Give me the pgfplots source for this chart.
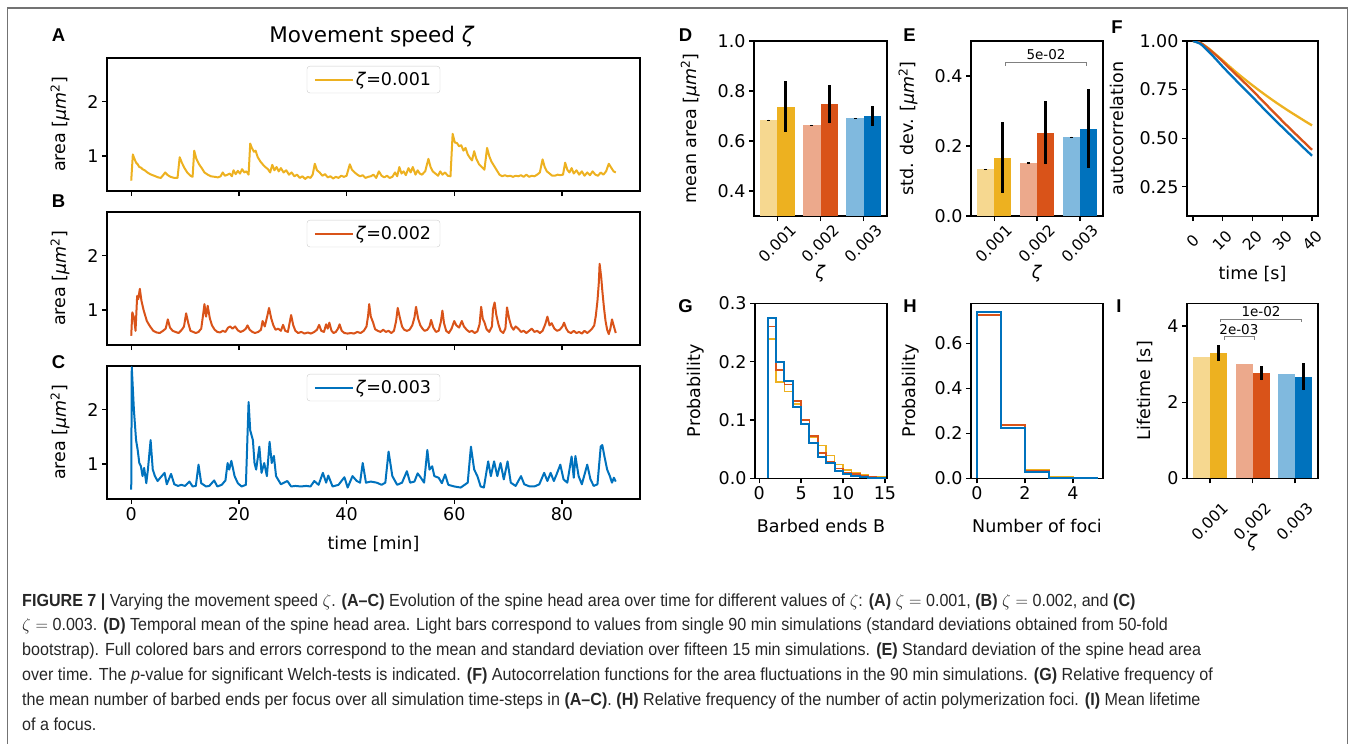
\documentclass[border=0pt]{standalone}
\usepackage{fontspec}
\usepackage{pgfplots}
\pgfplotsset{compat=1.18}
\setmainfont{DejaVu Sans}
\newfontfamily\panelfont{Liberation Sans}
\newfontfamily\capfont[FakeStretch=0.92]{Liberation Sans}
\definecolor{cy}{HTML}{EDB120}
\definecolor{co}{HTML}{D95319}
\definecolor{cb}{HTML}{0072BD}
\definecolor{ly}{HTML}{F6D890}
\definecolor{lo}{HTML}{ECA98C}
\definecolor{lb}{HTML}{80B9DE}
\newcommand\tk{\fontsize{17.5}{20}\selectfont}
\newcommand\rtk{\fontsize{15.5}{18}\selectfont}
\newcommand\zt{\textit{ζ}}
\newcommand\umq{[\textit{μm}\textsuperscript{2}]}
\newcommand\capf{\capfont\fontsize{17.5}{20}\selectfont}

\pgfplotsset{
  panel/.style={scale only axis, axis line style={line width=1.3pt},
    tick align=outside, tick pos=left, major tick length=5pt,
    every tick/.style={line width=1.3pt, black},
    tick label style={font=\tk}, label style={font=\tk},
    /pgf/number format/assume math mode=true},
  dec1/.style={yticklabel style={/pgf/number format/.cd, fixed, fixed zerofill, precision=1}},
  trace/.style={line width=2pt, line join=round},
  leg/.style={legend style={at={(0.5,0.94)}, anchor=north, draw=black!20,
    rounded corners=3pt, font=\tk, inner xsep=7pt, inner ysep=4pt},
    legend image code/.code={\draw[##1] (0pt,0pt) -- (38pt,0pt);}},
  bb/.style={ybar, bar width=0.4, bar shift=0pt, draw=none, fill=#1,
    /pgfplots/error bars/y dir=both, /pgfplots/error bars/y explicit,
    /pgfplots/error bars/error mark=none,
    /pgfplots/error bars/error bar style={line width=3pt, black}},
  cats/.style={xmin=-0.54, xmax=2.54, xtick={0,1,2}, xticklabels={0.001,0.002,0.003},
    xticklabel style={rotate=45, anchor=center, xshift=-16pt, yshift=-16pt, font=\rtk}},
}

\begin{document}
\begin{tikzpicture}
\useasboundingbox (0pt,0pt) rectangle (1355pt,-744pt);
\draw[black!55, line width=1.5pt] (7.5pt,-746pt) -- (7.5pt,-8pt) -- (1347.5pt,-8pt) -- (1347.5pt,-746pt);

% ---------- A ----------
\begin{axis}[panel, leg, at={(107pt,-191pt)}, anchor=south west, width=533pt, height=133pt,
  xmin=-4.5, xmax=94.5, ymin=0.36, ymax=2.8, xtick={0,20,40,60,80}, xticklabels={},
  ytick={1,2}, ylabel={area \umq}, ylabel style={at={(axis description cs:-0.088,0.5)}, anchor=center}]
\addplot[trace, cy] table {
0 0.55
0.3 1.03
0.6 0.95
0.9 0.88
1.2 0.85
1.5 0.80
1.8 0.79
2.1 0.76
2.5 0.74
3.0 0.70
3.5 0.67
4.0 0.65
4.5 0.63
5.0 0.61
5.5 0.60
6.0 0.66
6.3 0.70
6.8 0.65
7.3 0.62
8.0 0.60
8.6 0.60
9.0 0.98
9.4 0.88
9.9 0.78
10.4 0.70
11.0 0.64
11.4 0.62
11.7 1.10
12.1 0.95
12.6 0.85
13.1 0.78
13.6 0.70
14.2 0.66
14.8 0.63
15.5 0.62
16.1 0.61
16.6 0.63
17.0 0.70
17.4 0.64
17.9 0.66
18.3 0.68
18.7 0.63
19.0 0.74
19.4 0.67
19.8 0.73
20.2 0.68
20.6 0.76
21.0 0.70
21.4 0.72
21.8 0.66
22.1 1.23
22.4 1.15
22.8 1.08
23.1 1.10
23.5 0.98
24.0 0.90
24.5 0.84
24.9 0.80
25.4 0.76
25.8 0.70
26.2 0.84
26.6 0.74
27.0 0.80
27.4 0.72
27.8 0.78
28.3 0.70
28.8 0.74
29.3 0.66
29.8 0.70
30.3 0.63
30.8 0.66
31.3 0.60
31.8 0.63
32.3 0.58
32.8 0.62
33.3 0.60
33.7 0.66
34.1 0.86
34.5 0.74
35.0 0.70
35.5 0.64
36.0 0.67
36.5 0.61
37.0 0.63
37.5 0.59
38.0 0.62
38.5 0.60
39.0 0.64
39.5 0.62
40.0 0.64
40.6 0.85
41.0 0.75
41.5 0.70
42.0 0.66
42.5 0.63
43.0 0.65
43.5 0.60
44.0 0.62
44.5 0.63
45.0 0.66
45.5 0.60
46.0 0.72
46.5 0.64
47.0 0.61
47.5 0.64
48.0 0.60
48.5 0.62
49.0 0.70
49.4 0.63
49.8 0.80
50.2 0.68
50.6 0.72
51.0 0.65
51.5 0.78
51.9 0.70
52.3 0.80
52.8 0.66
53.2 0.74
53.6 0.68
54.0 0.66
54.6 0.72
55.2 0.95
55.6 0.80
56.0 0.72
56.5 0.68
57.0 0.64
57.4 0.72
57.8 0.66
58.3 0.70
58.8 0.64
59.3 0.63
59.7 1.41
60.1 1.25
60.5 1.24
60.9 1.18
61.3 1.20
61.7 1.10
62.1 1.15
62.5 1.03
62.9 0.97
63.3 0.92
63.7 1.09
64.1 0.95
64.6 0.85
65.1 0.80
65.6 0.75
66.1 1.15
66.5 1.00
66.9 0.90
67.4 0.82
67.9 0.74
68.4 0.66
68.9 0.63
69.4 0.65
69.9 0.63
70.4 0.64
70.9 0.62
71.4 0.64
71.9 0.63
72.4 0.65
72.9 0.62
73.4 0.66
73.9 0.62
74.4 0.64
74.9 0.63
75.4 0.66
75.9 0.70
76.4 0.94
76.8 0.80
77.2 0.72
77.7 0.68
78.2 0.64
78.7 0.64
79.2 0.66
79.7 0.65
80.2 0.66
80.6 0.88
81.0 0.75
81.4 0.70
81.8 0.78
82.2 0.68
82.7 0.74
83.2 0.66
83.7 0.72
84.2 0.64
84.7 0.70
85.2 0.65
85.7 0.72
86.2 0.66
86.7 0.64
87.2 0.70
87.7 0.66
88.2 0.72
88.7 0.86
89.2 0.78
89.6 0.72
90.0 0.70
};
\addlegendentry{\zt=0.001}
\end{axis}

% ---------- B ----------
\begin{axis}[panel, leg, at={(107pt,-345pt)}, anchor=south west, width=533pt, height=133pt,
  xmin=-4.5, xmax=94.5, ymin=0.36, ymax=2.8, xtick={0,20,40,60,80}, xticklabels={},
  ytick={1,2}, ylabel={area \umq}, ylabel style={at={(axis description cs:-0.088,0.5)}, anchor=center}]
\addplot[trace, co] table {
0 0.53
0.2 0.96
0.5 0.87
0.8 0.62
1.1 1.26
1.3 1.20
1.6 1.39
1.9 1.17
2.3 1.00
2.9 0.80
3.5 0.70
4.1 0.62
4.7 0.59
5.3 0.58
5.9 0.62
6.4 0.66
6.8 0.83
7.2 0.68
7.7 0.62
8.2 0.60
8.8 0.58
9.4 0.64
9.8 0.70
10.2 0.94
10.6 0.76
11.0 0.62
11.5 0.60
12.0 0.58
12.5 0.60
13.0 0.66
13.4 0.95
13.6 1.11
13.9 0.88
14.2 1.08
14.6 0.85
15.0 0.72
15.5 0.64
16.0 0.60
16.5 0.59
17.0 0.62
17.5 0.60
18.0 0.68
18.4 0.70
18.8 0.66
19.3 0.70
19.8 0.63
20.3 0.60
20.8 0.62
21.3 0.66
21.6 0.72
22.0 0.64
22.5 0.60
23.0 0.58
23.6 0.60
24.1 0.64
24.4 0.80
24.8 0.70
25.2 0.86
25.6 1.04
26.0 0.85
26.4 0.72
26.8 0.64
27.3 0.66
27.8 0.62
28.2 0.73
28.6 0.62
29.1 0.60
29.7 0.91
30.1 0.72
30.5 0.62
31.0 0.58
31.6 0.60
32.2 0.57
32.8 0.59
33.4 0.57
34.0 0.60
34.5 0.64
34.9 0.73
35.3 0.62
35.8 0.60
36.2 0.74
36.5 0.66
36.8 0.77
37.2 0.62
37.6 0.58
38.0 0.60
38.4 0.66
38.7 0.74
39.1 0.62
39.6 0.58
40.2 0.57
40.8 0.58
41.4 0.57
42.0 0.60
42.6 0.58
43.2 0.62
43.7 0.70
44.0 0.90
44.2 1.11
44.5 0.88
44.9 0.78
45.3 0.65
45.8 0.62
46.3 0.60
46.8 0.64
47.3 0.60
47.8 0.62
48.3 0.58
48.8 0.62
49.2 0.80
49.5 1.04
49.9 0.86
50.3 0.70
50.7 0.64
51.2 0.62
51.7 0.64
52.2 0.72
52.6 0.86
52.9 1.06
53.3 0.84
53.7 0.72
54.1 0.66
54.5 0.62
55.0 0.64
55.4 0.70
55.7 0.82
56.1 0.68
56.6 0.60
57.1 0.62
57.5 0.78
57.8 0.99
58.1 0.76
58.5 0.62
59.0 0.58
59.5 0.66
60.0 0.80
60.4 0.72
60.9 0.68
61.4 0.80
61.8 0.70
62.3 0.64
62.8 0.60
63.3 0.62
63.8 0.58
64.3 0.61
64.7 0.74
65.0 1.06
65.3 0.84
65.6 0.78
66.0 0.65
66.5 0.60
67.0 0.70
67.2 1.02
67.5 1.14
67.8 0.92
68.2 0.74
68.6 0.62
69.1 0.58
69.5 0.66
69.8 1.05
70.2 0.84
70.6 0.70
71.0 0.64
71.4 0.70
71.9 0.66
72.4 0.60
72.9 0.62
73.4 0.58
73.9 0.62
74.4 0.66
74.9 0.60
75.4 0.62
75.9 0.58
76.4 0.62
76.9 0.74
77.3 0.88
77.7 0.72
78.1 0.76
78.6 0.66
79.1 0.62
79.6 0.64
80.1 0.70
80.4 0.77
80.8 0.66
81.2 0.60
81.7 0.58
82.2 0.62
82.7 0.58
83.2 0.60
83.7 0.57
84.2 0.62
84.7 0.58
85.2 0.62
85.6 0.66
86.0 0.72
86.3 0.90
86.6 1.17
86.85 1.50
87.0 1.85
87.3 1.60
87.5 1.36
87.8 1.05
88.1 0.80
88.4 0.64
88.7 0.56
89.0 0.66
89.3 0.83
89.6 0.72
90.0 0.58
};
\addlegendentry{\zt=0.002}
\end{axis}

% ---------- C ----------
\begin{axis}[panel, leg, at={(107pt,-499pt)}, anchor=south west, width=533pt, height=133pt,
  xmin=-4.5, xmax=94.5, ymin=0.36, ymax=2.8, xtick={0,20,40,60,80},
  ytick={1,2}, ylabel={area \umq}, ylabel style={at={(axis description cs:-0.088,0.5)}, anchor=center},
  xlabel={time [min]}, xlabel style={at={(axis description cs:0.5,-0.34)}, anchor=center}]
\addplot[trace, cb] table {
0 0.53
0.1 2.78
0.5 1.99
0.9 1.44
1.2 1.26
1.5 1.02
1.8 0.96
2.1 0.78
2.4 0.93
2.8 0.65
3.1 0.90
3.6 1.44
4.0 0.90
4.4 0.78
4.9 0.69
5.4 0.75
6.2 0.84
6.6 0.63
7.4 0.82
8.0 0.63
8.7 0.60
9.3 0.62
10.0 0.60
10.8 0.68
11.4 0.59
12.0 0.60
12.5 0.99
13.0 0.65
13.9 0.59
14.5 0.60
15.4 0.70
16.0 0.59
16.8 0.62
17.5 0.70
17.9 1.02
18.2 0.90
18.6 1.06
19.2 0.78
19.8 0.65
20.5 0.59
21.3 0.62
21.8 2.14
22.1 1.62
22.6 1.44
22.9 1.02
23.2 0.90
23.8 1.32
24.2 0.84
24.7 1.02
25.2 0.78
25.7 1.41
26.1 1.02
26.5 1.15
26.9 0.78
27.8 0.63
29.0 0.69
29.7 0.59
30.5 0.60
31.5 0.59
32.5 0.60
33.3 0.59
34.0 0.69
34.8 0.62
35.6 0.84
36.2 0.66
36.6 0.79
37.4 0.59
38.5 0.62
39.6 0.76
40.2 0.57
41.1 0.78
41.9 0.69
42.5 0.66
43.0 1.02
43.6 0.66
44.5 0.68
45.6 0.66
46.5 0.62
47.2 0.66
47.8 1.23
48.5 0.78
49.4 0.62
50.3 0.66
51.2 0.87
51.8 0.66
52.6 0.68
53.2 0.83
53.8 0.75
54.4 0.66
55.0 1.26
55.4 0.90
55.9 0.96
56.3 0.78
57.1 0.75
57.7 0.65
58.3 0.81
58.9 0.62
60.0 0.59
61.2 0.57
62.5 0.66
63.1 1.32
63.7 0.90
64.3 0.78
64.9 0.59
65.5 0.57
66.3 1.05
66.8 0.78
67.4 1.05
68.0 0.78
68.6 1.02
69.2 0.72
69.9 1.05
70.5 0.66
71.4 0.60
72.4 0.78
73.0 0.63
74.0 0.59
74.9 0.59
75.8 0.63
76.7 0.84
77.3 0.69
77.9 0.84
78.5 0.69
79.0 0.81
79.7 0.99
80.3 0.72
81.0 0.66
81.8 1.14
82.2 0.75
82.5 1.15
83.1 0.78
83.7 0.63
84.7 0.99
85.3 0.72
85.9 0.60
86.6 0.63
87.2 1.32
87.5 1.35
87.9 1.14
88.4 0.90
88.9 0.78
89.3 0.66
89.65 0.75
90.0 0.68
};
\addlegendentry{\zt=0.003}
\end{axis}

% ---------- D ----------
\begin{axis}[panel, dec1, cats, at={(754pt,-216pt)}, anchor=south west, width=133pt, height=175pt,
  ymin=0.3, ymax=1.0, ytick={0.4,0.6,0.8,1.0},
  xlabel={\zt}, xlabel style={at={(axis description cs:0.5,-0.33)}, anchor=center},
  ylabel={mean area \umq}, ylabel style={at={(axis description cs:-0.48,0.5)}, anchor=center}]
\addplot[bb=ly] coordinates {(-0.2,0.684) +- (0,0.002)};
\addplot[bb=cy] coordinates {(0.2,0.738) +- (0,0.101)};
\addplot[bb=lo] coordinates {(0.8,0.663) +- (0,0.002)};
\addplot[bb=co] coordinates {(1.2,0.748) +- (0,0.077)};
\addplot[bb=lb] coordinates {(1.8,0.691) +- (0,0.002)};
\addplot[bb=cb] coordinates {(2.2,0.701) +- (0,0.040)};
\end{axis}

% ---------- E ----------
\begin{axis}[panel, dec1, cats, at={(971pt,-216pt)}, anchor=south west, width=132pt, height=175pt,
  ymin=0, ymax=0.5, ytick={0,0.2,0.4},
  xlabel={\zt}, xlabel style={at={(axis description cs:0.5,-0.33)}, anchor=center},
  ylabel={std. dev. \umq}, ylabel style={at={(axis description cs:-0.477,0.5)}, anchor=center}]
\addplot[bb=ly] coordinates {(-0.2,0.133) +- (0,0.002)};
\addplot[bb=cy] coordinates {(0.2,0.167) +- (0,0.1015)};
\addplot[bb=lo] coordinates {(0.8,0.152) +- (0,0.002)};
\addplot[bb=co] coordinates {(1.2,0.238) +- (0,0.090)};
\addplot[bb=lb] coordinates {(1.8,0.225) +- (0,0.002)};
\addplot[bb=cb] coordinates {(2.2,0.250) +- (0,0.112)};
\draw[black!50, line width=1pt] (axis cs:0.26,0.43) -- (axis cs:0.26,0.438) -- (axis cs:2.16,0.438) -- (axis cs:2.16,0.43);
\node[font=\fontsize{13.5}{15}\selectfont] at (axis cs:1.21,0.462) {5e-02};
\end{axis}

% ---------- F ----------
\begin{axis}[panel, at={(1187pt,-216pt)}, anchor=south west, width=131pt, height=175pt,
  xmin=-2, xmax=42, ymin=0.1, ymax=1.0, xtick={0,10,20,30,40}, ytick={0.25,0.5,0.75,1},
  yticklabel style={/pgf/number format/.cd, fixed, fixed zerofill, precision=2},
  xticklabel style={rotate=45, anchor=center, xshift=-14pt, yshift=-14pt, font=\rtk},
  xlabel={time [s]}, xlabel style={at={(axis description cs:0.5,-0.33)}, anchor=center},
  ylabel={autocorrelation}, ylabel style={at={(axis description cs:-0.532,0.5)}, anchor=center}]
\addplot[smooth, line width=2.3pt, cy] coordinates {(0,1.0)(2.5,0.99)(5,0.965)(7.5,0.933)(10,0.90)(12.5,0.866)(15,0.833)(17.5,0.802)(20,0.772)(22.5,0.743)(25,0.715)(27.5,0.688)(30,0.662)(32.5,0.637)(35,0.613)(37.5,0.589)(40,0.566)};
\addplot[smooth, line width=2.3pt, co] coordinates {(0,1.0)(2.5,0.99)(5,0.962)(7.5,0.93)(10,0.895)(12.5,0.857)(15,0.82)(17.5,0.783)(20,0.746)(22.5,0.706)(25,0.667)(27.5,0.628)(30,0.589)(32.5,0.551)(35,0.514)(37.5,0.477)(40,0.44)};
\addplot[smooth, line width=2.3pt, cb] coordinates {(0,1.0)(2.5,0.985)(5,0.95)(7.5,0.91)(10,0.868)(12.5,0.828)(15,0.789)(17.5,0.75)(20,0.712)(22.5,0.672)(25,0.633)(27.5,0.595)(30,0.557)(32.5,0.52)(35,0.483)(37.5,0.446)(40,0.41)};
\end{axis}

% ---------- G ----------
\begin{axis}[panel, dec1, at={(755pt,-478.3pt)}, anchor=south west, width=132pt, height=175pt,
  xmin=-0.5, xmax=15.25, ymin=0, ymax=0.3, xtick={0,5,10,15}, ytick={0,0.1,0.2,0.3},
  xlabel={Barbed ends B}, xlabel style={at={(axis description cs:0.5,-0.27)}, anchor=center},
  ylabel={Probability}, ylabel style={at={(axis description cs:-0.45,0.5)}, anchor=center}]
\addplot[const plot mark left, line width=1.6pt, cy] coordinates {(1,0)(1,0.239)(2,0.165)(3,0.149)(4,0.127)(5,0.099)(6,0.071)(7,0.056)(8,0.039)(9,0.024)(10,0.014)(11,0.010)(12,0.006)(13,0.003)(14,0.002)(15,0.002)(15,0)};
\addplot[const plot mark left, line width=1.6pt, co] coordinates {(1,0)(1,0.260)(2,0.186)(3,0.161)(4,0.133)(5,0.100)(6,0.073)(7,0.043)(8,0.029)(9,0.017)(10,0.010)(11,0.007)(12,0.004)(13,0.002)(14,0.001)(15,0.001)(15,0)};
\addplot[const plot mark left, line width=2pt, cb] coordinates {(1,0)(1,0.275)(2,0.200)(3,0.167)(4,0.123)(5,0.093)(6,0.060)(7,0.036)(8,0.026)(9,0.013)(10,0.007)(11,0.004)(12,0.002)(13,0.001)(14,0.0005)(15,0.0005)(15,0)};
\end{axis}

% ---------- H ----------
\begin{axis}[panel, dec1, at={(971pt,-478.3pt)}, anchor=south west, width=132pt, height=175pt,
  xmin=-0.25, xmax=5.25, ymin=0, ymax=0.778, xtick={0,2,4}, ytick={0,0.2,0.4,0.6},
  xlabel={Number of foci}, xlabel style={at={(axis description cs:0.5,-0.27)}, anchor=center},
  ylabel={Probability}, ylabel style={at={(axis description cs:-0.46,0.5)}, anchor=center}]
\addplot[const plot mark left, line width=2pt, cy] coordinates {(0,0)(0,0.725)(1,0.236)(2,0.035)(3,0.004)(4,0.0005)(5,0.0005)(5,0)};
\addplot[const plot mark left, line width=2pt, co] coordinates {(0,0)(0,0.728)(1,0.237)(2,0.032)(3,0.003)(4,0.0004)(5,0.0004)(5,0)};
\addplot[const plot mark left, line width=2pt, cb] coordinates {(0,0)(0,0.740)(1,0.225)(2,0.029)(3,0.002)(4,0.0003)(5,0.0003)(5,0)};
\end{axis}

% ---------- I ----------
\begin{axis}[panel, cats, at={(1187pt,-478.3pt)}, anchor=south west, width=131pt, height=175pt,
  ymin=0, ymax=4.6, ytick={0,2,4},
  xticklabel style={xshift=-11pt, yshift=-11pt},
  xlabel={\zt}, xlabel style={at={(axis description cs:0.5,-0.37)}, anchor=center},
  ylabel={Lifetime [s]}, ylabel style={at={(axis description cs:-0.32,0.5)}, anchor=center}]
\addplot[bb=ly] coordinates {(-0.2,3.20)};
\addplot[bb=cy] coordinates {(0.2,3.29) +- (0,0.205)};
\addplot[bb=lo] coordinates {(0.8,3.01)};
\addplot[bb=co] coordinates {(1.2,2.76) +- (0,0.18)};
\addplot[bb=lb] coordinates {(1.8,2.74)};
\addplot[bb=cb] coordinates {(2.2,2.67) +- (0,0.355)};
\draw[black!50, line width=1pt] (axis cs:0.25,4.10) -- (axis cs:0.25,4.18) -- (axis cs:2.15,4.18) -- (axis cs:2.15,4.10);
\node[font=\fontsize{13.5}{15}\selectfont] at (axis cs:1.2,4.38) {1e-02};
\draw[black!50, line width=1pt] (axis cs:0.35,3.64) -- (axis cs:0.35,3.73) -- (axis cs:1.05,3.73) -- (axis cs:1.05,3.64);
\node[font=\fontsize{13.5}{15}\selectfont] at (axis cs:0.68,3.92) {2e-03};
\end{axis}

% ---------- titles and panel letters ----------
\node[font=\fontsize{21.5}{24}\selectfont] at (372pt,-37pt) {Movement speed \zt};
\begin{scope}[every node/.style={font=\panelfont\bfseries\fontsize{18.5}{20}\selectfont}]
\node at (58.5pt,-35.5pt) {A};
\node at (58.5pt,-201pt) {B};
\node at (58.5pt,-362pt) {C};
\node at (685.5pt,-35pt) {D};
\node at (909.5pt,-35pt) {E};
\node at (1117pt,-27pt) {F};
\node at (685.5pt,-306pt) {G};
\node at (910pt,-306pt) {H};
\node at (1119pt,-306pt) {I};
\end{scope}

% ---------- caption ----------
\begin{scope}[every node/.style={anchor=base west, inner sep=0pt, text=black!85, font=\capf}]
\node at (22pt,-606pt) {\textbf{FIGURE 7 |} Varying the movement speed $\zeta$. \textbf{(A–C)} Evolution of the spine head area over time for different values of $\zeta$: \textbf{(A)} $\zeta=$ 0.001, \textbf{(B)} $\zeta=$ 0.002, and \textbf{(C)}};
\node at (22pt,-630.8pt) {$\zeta=$ 0.003. \textbf{(D)} Temporal mean of the spine head area. Light bars correspond to values from single 90 min simulations (standard deviations obtained from 50-fold};
\node at (22pt,-655.6pt) {bootstrap). Full colored bars and errors correspond to the mean and standard deviation over fifteen 15 min simulations. \textbf{(E)} Standard deviation of the spine head area};
\node at (22pt,-680.4pt) {over time. The \textit{p}-value for significant Welch-tests is indicated. \textbf{(F)} Autocorrelation functions for the area fluctuations in the 90 min simulations. \textbf{(G)} Relative frequency of};
\node at (22pt,-705.2pt) {the mean number of barbed ends per focus over all simulation time-steps in \textbf{(A–C)}. \textbf{(H)} Relative frequency of the number of actin polymerization foci. \textbf{(I)} Mean lifetime};
\node at (22pt,-730pt) {of a focus.};
\end{scope}
\end{tikzpicture}
\end{document}
